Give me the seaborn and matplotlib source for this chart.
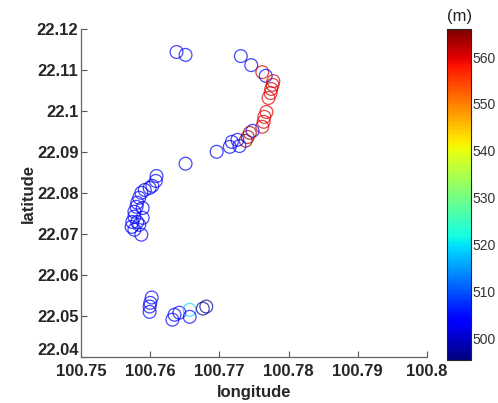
import numpy as np
import pandas as pd
import matplotlib
matplotlib.use("Agg")
import matplotlib.pyplot as plt
import matplotlib.transforms as mtransforms
import seaborn as sns

# track points (longitude, latitude, elevation in m)
lon = [100.7638, 100.7651, 100.7731, 100.7746, 100.7762, 100.7767, 100.7778, 100.7777,
       100.7775, 100.7774, 100.7771, 100.7768, 100.7765, 100.7764, 100.7762, 100.7748,
       100.7744, 100.7741, 100.7738, 100.7729, 100.7726, 100.7718, 100.7715, 100.7696,
       100.7651,
       100.7609, 100.7608, 100.7603, 100.7599, 100.7592, 100.7587, 100.7584, 100.7581,
       100.7580, 100.7577, 100.7577, 100.7574, 100.7573, 100.7577, 100.7587, 100.7589,
       100.7589, 100.7581, 100.7584,
       100.7602, 100.7600, 100.7599, 100.7599, 100.7635, 100.7632, 100.7642, 100.7657,
       100.7657, 100.7676, 100.7681]
lat = [22.1144, 22.1137, 22.1134, 22.1112, 22.1095, 22.1086, 22.1073, 22.1064,
       22.1054, 22.1044, 22.1032, 22.0998, 22.0986, 22.0974, 22.0962, 22.0952,
       22.0947, 22.0937, 22.0928, 22.0915, 22.0930, 22.0925, 22.0913, 22.0901,
       22.0872,
       22.0842, 22.0830, 22.0818, 22.0813, 22.0808, 22.0801, 22.0789, 22.0777,
       22.0767, 22.0755, 22.0743, 22.0730, 22.0718, 22.0711, 22.0699, 22.0764,
       22.0740, 22.0730, 22.0723,
       22.0546, 22.0533, 22.0524, 22.0511, 22.0504, 22.0492, 22.0509, 22.0516,
       22.0499, 22.0519, 22.0524]
elev = [503, 503, 503, 504, 561, 504, 561, 561,
        561, 560, 560, 560, 560, 560, 561, 504,
        564, 564, 564, 504, 504, 503, 503, 503,
        503,
        503, 503, 503, 503, 503, 503, 503, 503,
        503, 503, 503, 503, 503, 503, 503, 503,
        503, 503, 503,
        503, 503, 503, 503, 503, 503, 503, 519,
        503, 497, 497]

x_ticks = [100.75, 100.76, 100.77, 100.78, 100.79, 100.8]
x_labels = ["100.75", "100.76", "100.77", "100.78", "100.79", "100.8"]
y_ticks = [22.04, 22.05, 22.06, 22.07, 22.08, 22.09, 22.1, 22.11, 22.12]
y_labels = ["22.04", "22.05", "22.06", "22.07", "22.08", "22.09", "22.1", "22.11", "22.12"]
cb_ticks = [500, 510, 520, 530, 540, 550, 560]
vmin, vmax = 495.4, 566

df = pd.DataFrame({"lon": lon, "lat": lat, "elev": elev})

sns.set_style("white")
plt.rcParams["font.family"] = ["Liberation Sans", "DejaVu Sans"]

jet = matplotlib.colormaps["jet"]
norm = matplotlib.colors.Normalize(vmin=vmin, vmax=vmax)

fig = plt.figure(figsize=(4.98, 4.03), dpi=100)
ax = fig.add_axes([0.163, 0.113, 0.694, 0.815])
sns.scatterplot(data=df, x="lon", y="lat", hue="elev", palette=jet, hue_norm=norm,
                s=85, legend=False, ax=ax)
# hollow circles, like the MATLAB scatter
pts = ax.collections[0]
cols = pts.get_facecolors()
cols[:, 3] = 0.72
pts.set_edgecolors(cols)
pts.set_facecolors("none")
pts.set_linewidths(0.9)

ax.set_xlim(100.75, 100.8)
ax.set_ylim(22.04, 22.12)
ax.set_xticks(x_ticks)
ax.set_xticklabels(x_labels, fontsize=12, fontweight="bold")
ax.set_yticks(y_ticks)
ax.set_yticklabels(y_labels, fontsize=12, fontweight="bold")
ax.set_xlabel("longitude", fontsize=12, fontweight="bold", labelpad=4)
ax.set_ylabel("latitude", fontsize=12, fontweight="bold", labelpad=1)
ax.tick_params(axis="both", direction="in", length=4, width=0.8, color="#555555",
               bottom=True, left=True)
ax.tick_params(axis="x", pad=5)
ax.tick_params(axis="y", pad=2)
# the lowest y label sits a little above its tick, as in the original
low = ax.get_yticklabels()[0]
low.set_transform(low.get_transform() + mtransforms.ScaledTranslation(0, 6 / 72, fig.dpi_scale_trans))
for side in ["top", "right"]:
    ax.spines[side].set_visible(False)
for side in ["left", "bottom"]:
    ax.spines[side].set_color("#666666")
    ax.spines[side].set_linewidth(0.9)

cax = fig.add_axes([0.898, 0.107, 0.048, 0.821])
sm = matplotlib.cm.ScalarMappable(norm=norm, cmap=jet)
cb = fig.colorbar(sm, cax=cax, ticks=cb_ticks)
cb.outline.set_linewidth(0.8)
cax.tick_params(direction="in", length=3, width=0.8, left=True, right=True,
                labelsize=10, labelcolor="#333333", pad=1)
cax.set_title("(m)", fontsize=12, color="#222222", pad=6)

fig.savefig("out.png", dpi=100)
